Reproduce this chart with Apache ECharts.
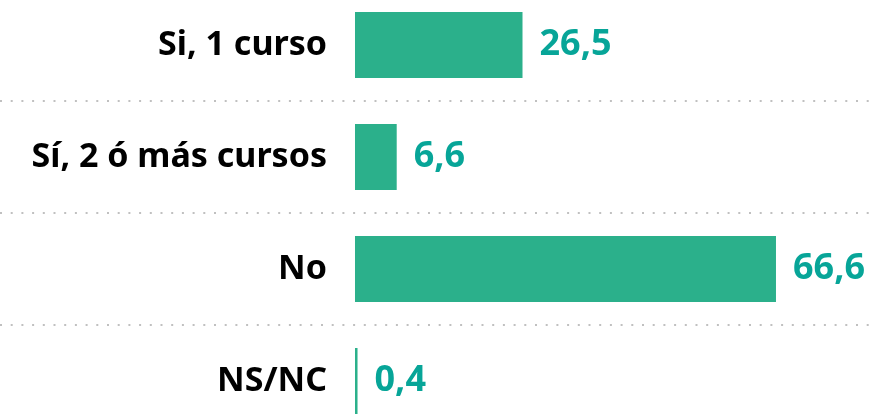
<!DOCTYPE html>
<html>
<head>
<meta charset="utf-8">
<script src="https://cdn.jsdelivr.net/npm/echarts@6/dist/echarts.min.js"></script>
<style>
  html, body { margin: 0; padding: 0; background: #fff; }
  #main { width: 872px; height: 419px; }
</style>
</head>
<body>
<div id="main"></div>
<script>
var categories = ["Si, 1 curso", "Sí, 2 ó más cursos", "No", "NS/NC"];
var values = [26.5, 6.6, 66.6, 0.4];

var myChart = echarts.init(document.getElementById("main"));
var option = {
  animation: false,
  grid: {
    left: 0,
    top: -11,
    width: 872,
    height: 448,
    outerBoundsMode: "none",
    containLabel: false
  },
  xAxis: {
    type: "value",
    min: -56.16,
    max: 81.79,
    show: false,
    splitLine: { show: false }
  },
  yAxis: {
    type: "category",
    inverse: true,
    data: categories,
    offset: -327,
    axisLine: { show: false },
    axisTick: { show: false },
    axisLabel: {
      margin: 0,
      color: "#000",
      fontFamily: "Noto Sans",
      fontWeight: "bold",
      fontSize: 34
    },
    splitLine: {
      show: true,
      lineStyle: {
        color: "#c0c0c0",
        width: 2,
        type: [2, 8.7]
      }
    }
  },
  series: [
    {
      type: "bar",
      data: values,
      barWidth: 66,
      itemStyle: { color: "#2bb08b" },
      label: {
        show: true,
        position: "right",
        distance: 17,
        color: "#07a598",
        fontFamily: "Noto Sans",
        fontWeight: "bold",
        fontSize: 36,
        formatter: function(p) {
          return String(p.value).replace(".", ",");
        }
      }
    }
  ]
};
myChart.setOption(option);
</script>
</body>
</html>
